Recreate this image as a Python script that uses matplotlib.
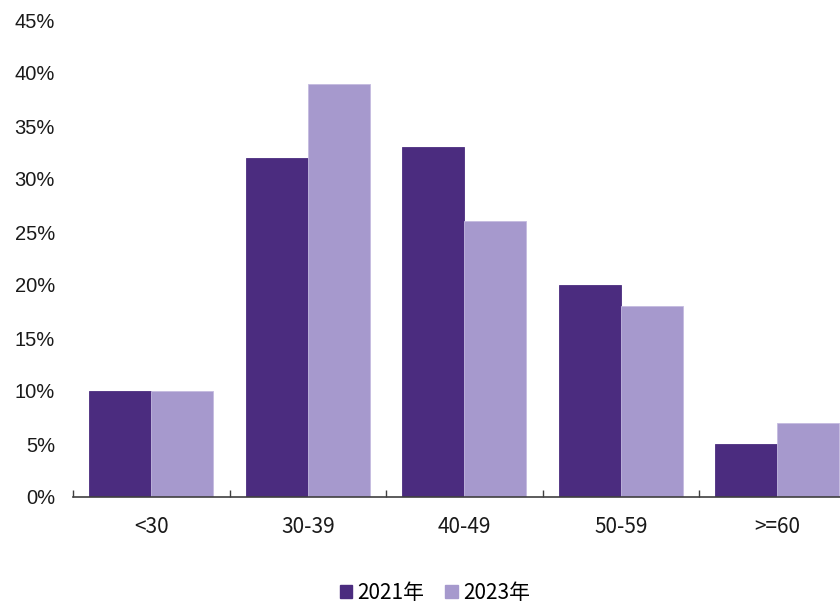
import matplotlib
matplotlib.use("Agg")
import matplotlib.pyplot as plt
import numpy as np
from matplotlib.ticker import FixedLocator, PercentFormatter
from matplotlib.patches import Patch

categories = ["<30", "30-39", "40-49", "50-59", ">=60"]
series_names = ["2021年", "2023年"]
values_2021 = [10, 32, 33, 20, 5]
values_2023 = [10, 39, 26, 18, 7]
y_ticks = [0, 5, 10, 15, 20, 25, 30, 35, 40, 45]

dark = "#4B2C7F"
light = "#A699CD"
cjk = ["Noto Sans CJK SC", "DejaVu Sans"]

fig = plt.figure(figsize=(8.4, 6.05), dpi=100)
ax = fig.add_axes([73 / 840, 1 - 497 / 605, (855.5 - 73) / 840, (497 - 20) / 605])

x = np.arange(len(categories))
w = 0.395
ax.bar(x - w / 2, values_2021, width=w, color=dark, edgecolor=dark, linewidth=0.6)
ax.bar(x + w / 2, values_2023, width=w, color=light, edgecolor="#C4BBE0", linewidth=0.6)

ax.set_xlim(-0.5, len(categories) - 0.5)
ax.set_ylim(0, 45)
ax.yaxis.set_major_locator(FixedLocator(y_ticks))
ax.yaxis.set_major_formatter(PercentFormatter(decimals=0))

for s in ["top", "right", "left"]:
    ax.spines[s].set_visible(False)
ax.spines["bottom"].set_color("#404040")
ax.spines["bottom"].set_linewidth(1.2)
ax.spines["bottom"].set_zorder(3)

ax.tick_params(axis="y", length=0, pad=13, labelsize=14.5, labelcolor="#1a1a1a")
for lbl in ax.get_yticklabels():
    lbl.set_family(["Liberation Sans", "DejaVu Sans"])

# category separators as major ticks, names as minor ticks
ax.xaxis.set_major_locator(FixedLocator(np.arange(-0.5, len(categories), 1.0)))
ax.xaxis.set_major_formatter(plt.NullFormatter())
ax.tick_params(axis="x", which="major", length=5, width=1.0, color="#404040", direction="in")
ax.xaxis.set_minor_locator(FixedLocator(x))
ax.set_xticklabels(categories, minor=True)
ax.tick_params(axis="x", which="minor", length=0, pad=14, labelsize=15, labelcolor="#1a1a1a")
for lbl in ax.get_xticklabels(minor=True):
    lbl.set_family(cjk)

handles = [Patch(facecolor=dark, edgecolor=dark), Patch(facecolor=light, edgecolor=light)]
fig.legend(handles, series_names, loc="center", bbox_to_anchor=(435 / 840, 1 - 593 / 605),
           ncol=2, frameon=False, prop={"family": cjk, "size": 15},
           handlelength=0.6, handleheight=0.6, handletextpad=0.25, columnspacing=1.0)

fig.savefig("out.png", dpi=100)
